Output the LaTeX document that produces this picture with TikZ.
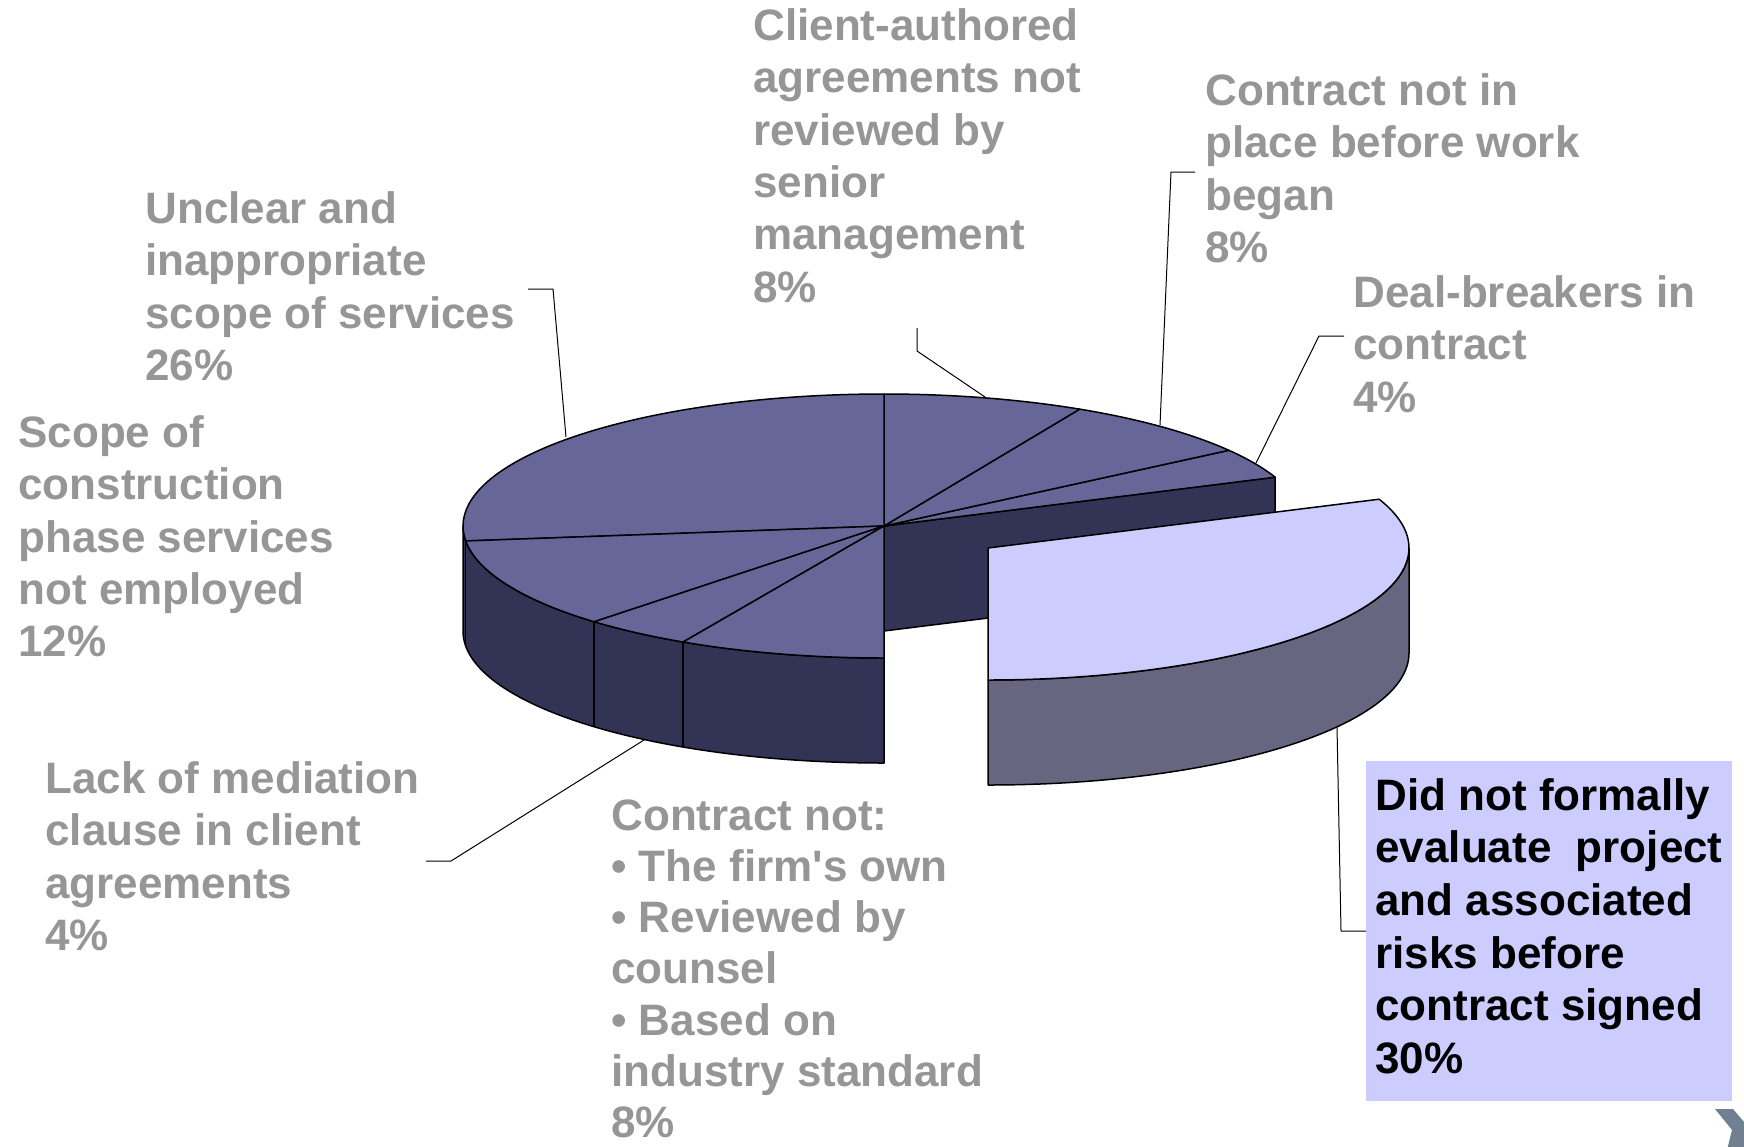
\documentclass[tikz,border=0pt]{standalone}
\usepackage{fontspec}
\setmainfont{Liberation Sans}
\definecolor{pietop}{HTML}{666699}
\definecolor{pieside}{HTML}{333355}
\definecolor{cuttop}{HTML}{CCCCFF}
\definecolor{cutside}{HTML}{666680}
\definecolor{labelgray}{HTML}{969696}
\definecolor{logogray}{HTML}{708090}
\newcommand{\lblfont}{\bfseries\fontsize{22}{26.2}\selectfont}

\begin{document}
\begin{tikzpicture}[x=0.5pt,y=0.5pt,line join=round,
                    rim/.style={x radius=421,y radius=132},
                    top face/.style={fill=pietop,draw=black,line width=0.75pt},
                    side face/.style={fill=pieside,draw=black,line width=0.75pt},
                    label node/.style={anchor=north west,inner sep=0pt,align=left,text=labelgray,font=\lblfont},
                    leader/.style={draw=black,line width=0.5pt}]
  \useasboundingbox (0,0) rectangle (1744,-1146);
  \coordinate (O) at (884,-526);
  \coordinate (Ob) at (884,-631);
  \coordinate (E) at (988,-548);

  % body of the pie
  \filldraw[side face] (O) ++(180:421 and 132) arc[start angle=180,end angle=270,rim]
    -- ++(0,-105) arc[start angle=270,end angle=180,rim] -- cycle;
  \foreach \a in {186.5,226.5,241.5}
    \draw[line width=0.75pt] (O) ++(\a:421 and 132) -- ++(0,-105);
  \filldraw[side face] (O) -- ++(21.7:421 and 132) -- ++(0,-105) -- (Ob) -- cycle;
  \foreach \a/\b in {21.7/35,35/62.3,62.3/90,90/186.5,186.5/226.5,226.5/241.5,241.5/270}
    \filldraw[top face] (O) -- ++(\a:421 and 132) arc[start angle=\a,end angle=\b,rim] -- cycle;

  % pulled out slice
  \filldraw[side face,fill=cutside] (E) ++(0:421 and 132) arc[start angle=0,end angle=-90,rim]
    -- ++(0,-105) arc[start angle=-90,end angle=0,rim] -- cycle;
  \filldraw[top face,fill=cuttop] (E) -- ++(21.7:421 and 132) arc[start angle=21.7,end angle=-90,rim] -- cycle;

  \node[label node] (unclear) at (145,-186.3) {\strut Unclear and\\inappropriate\\scope of services\\26\%};
  \node[label node] (client) at (753,-3.3) {\strut Client-authored\\agreements not\\reviewed by\\senior\\management\\8\%};
  \node[label node] (inplace) at (1205,-68.3) {\strut Contract not in\\place before work\\began\\8\%};
  \node[label node] (dealbreak) at (1353,-270.3) {\strut Deal-breakers in\\contract\\4\%};
  \node[label node] (construct) at (18,-410.3) {\strut Scope of\\construction\\phase services\\not employed\\12\%};
  \node[label node] (mediation) at (45,-756.3) {\strut Lack of mediation\\clause in client\\agreements\\4\%};
  \node[label node,font=\bfseries\fontsize{22}{25.6}\selectfont] (notown) at (611,-794) {\strut Contract not:\\• The firm\textquotesingle s own\\• Reviewed by\\counsel\\• Based on\\industry standard\\8\%};
  \node[label node,text=black,fill=cuttop,inner xsep=4.5pt,inner ysep=6pt,font=\bfseries\fontsize{22}{26.3}\selectfont] (evaluate) at (1366,-761)
    {\strut Did not formally\\evaluate\ \ project\\and associated\\risks before\\contract signed\\30\%\strut};

  % leader lines
  \coordinate (unclear tick) at (528,-289);  \coordinate (unclear bend) at (553,-289);  \coordinate (unclear rim) at (566,-437);
  \coordinate (client tick) at (917,-328);   \coordinate (client bend) at (917,-351);   \coordinate (client rim) at (985,-397);
  \coordinate (inplace tick) at (1195,-172); \coordinate (inplace bend) at (1171,-172); \coordinate (inplace rim) at (1160,-425);
  \coordinate (deal tick) at (1344,-336);    \coordinate (deal bend) at (1319,-336);    \coordinate (deal rim) at (1256,-463);
  \coordinate (med tick) at (426,-861);      \coordinate (med bend) at (451,-861);      \coordinate (med rim) at (644,-740);
  \coordinate (eval tick) at (evaluate.west |- 0,-931); \coordinate (eval bend) at (1341,-931); \coordinate (eval rim) at (1337,-727);
  \draw[leader] (unclear tick) -- (unclear bend) -- (unclear rim);
  \draw[leader] (client tick) -- (client bend) -- (client rim);
  \draw[leader] (inplace tick) -- (inplace bend) -- (inplace rim);
  \draw[leader] (deal tick) -- (deal bend) -- (deal rim);
  \draw[leader] (med tick) -- (med bend) -- (med rim);
  \draw[leader] (eval tick) -- (eval bend) -- (eval rim);

  % corner mark
  \fill[logogray] (1715,-1109) -- (1733,-1109) -- (1756,-1136) -- (1746,-1150)
    -- (1727,-1150) -- (1732,-1130) -- cycle;
\end{tikzpicture}
\end{document}
